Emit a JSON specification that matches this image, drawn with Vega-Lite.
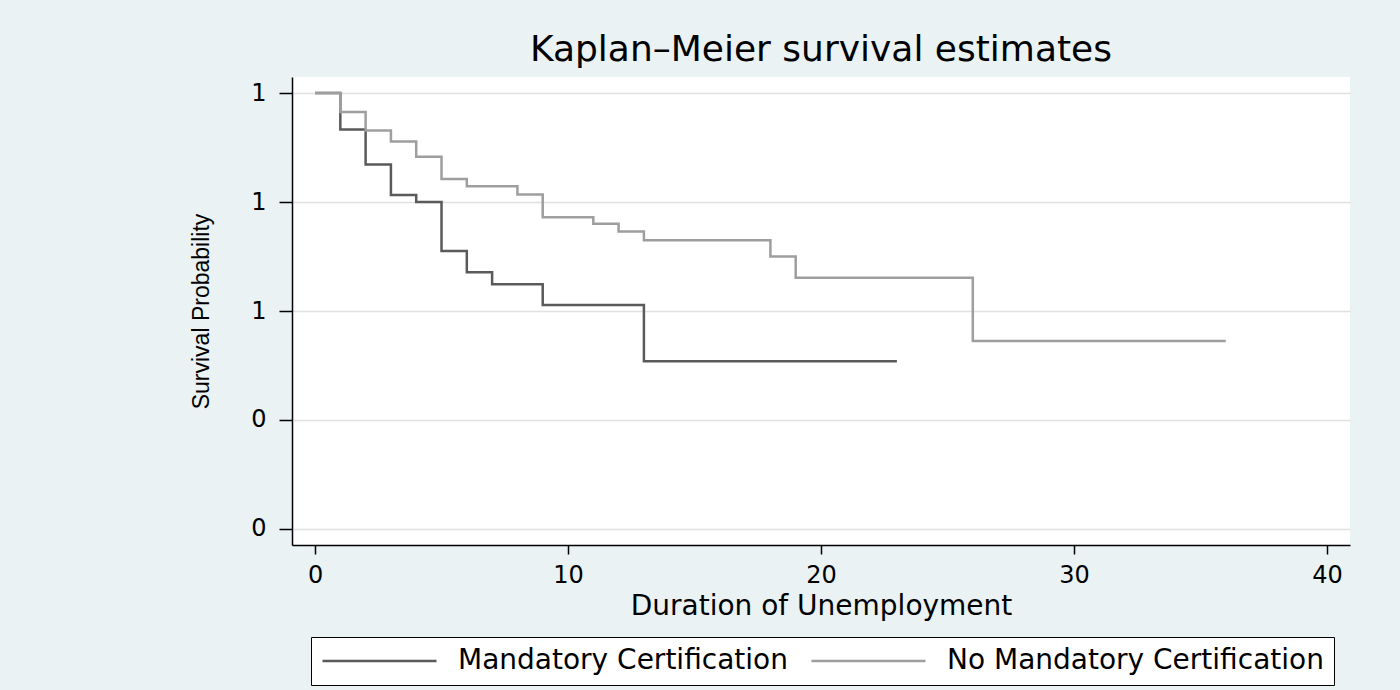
{
  "$schema": "https://vega.github.io/schema/vega-lite/v6.json",
  "width": 1058,
  "height": 468,
  "autosize": {"type": "none"},
  "padding": {"left": 292, "top": 77, "right": 50, "bottom": 145},
  "background": "#eaf2f3",
  "title": {
    "text": "Kaplan–Meier survival estimates",
    "font": "DejaVu Sans",
    "fontSize": 36,
    "fontWeight": "normal",
    "color": "black",
    "anchor": "middle",
    "baseline": "alphabetic",
    "offset": 14,
    "dy": 34
  },
  "data": {
    "values": [
      {"group": "Mandatory Certification", "t": 0, "s": 1.0},
      {"group": "Mandatory Certification", "t": 1, "s": 0.933},
      {"group": "Mandatory Certification", "t": 2, "s": 0.869},
      {"group": "Mandatory Certification", "t": 3, "s": 0.813},
      {"group": "Mandatory Certification", "t": 4, "s": 0.800},
      {"group": "Mandatory Certification", "t": 5, "s": 0.710},
      {"group": "Mandatory Certification", "t": 6, "s": 0.671},
      {"group": "Mandatory Certification", "t": 7, "s": 0.649},
      {"group": "Mandatory Certification", "t": 9, "s": 0.611},
      {"group": "Mandatory Certification", "t": 13, "s": 0.508},
      {"group": "Mandatory Certification", "t": 23, "s": 0.508},
      {"group": "No Mandatory Certification", "t": 0, "s": 1.0},
      {"group": "No Mandatory Certification", "t": 1, "s": 0.965},
      {"group": "No Mandatory Certification", "t": 2, "s": 0.931},
      {"group": "No Mandatory Certification", "t": 3, "s": 0.911},
      {"group": "No Mandatory Certification", "t": 4, "s": 0.883},
      {"group": "No Mandatory Certification", "t": 5, "s": 0.842},
      {"group": "No Mandatory Certification", "t": 6, "s": 0.829},
      {"group": "No Mandatory Certification", "t": 8, "s": 0.814},
      {"group": "No Mandatory Certification", "t": 9, "s": 0.772},
      {"group": "No Mandatory Certification", "t": 11, "s": 0.760},
      {"group": "No Mandatory Certification", "t": 12, "s": 0.746},
      {"group": "No Mandatory Certification", "t": 13, "s": 0.730},
      {"group": "No Mandatory Certification", "t": 18, "s": 0.700},
      {"group": "No Mandatory Certification", "t": 19, "s": 0.661},
      {"group": "No Mandatory Certification", "t": 26, "s": 0.545},
      {"group": "No Mandatory Certification", "t": 36, "s": 0.545}
    ]
  },
  "mark": {"type": "line", "interpolate": "step-after", "strokeWidth": 2.5},
  "encoding": {
    "x": {
      "field": "t",
      "type": "quantitative",
      "title": "Duration of Unemployment",
      "scale": {"domain": [-0.91, 40.91], "nice": false, "zero": false},
      "axis": {
        "values": [0, 10, 20, 30, 40],
        "grid": false,
        "tickSize": 9,
        "labelPadding": 9,
        "labelFont": "DejaVu Sans",
        "labelFontSize": 24,
        "titleFont": "DejaVu Sans",
        "titleFontSize": 28,
        "titlePadding": 5
      }
    },
    "y": {
      "field": "s",
      "type": "quantitative",
      "title": "Survival Probability",
      "scale": {"domain": [0.1706, 1.0294], "nice": false, "zero": false},
      "axis": {
        "values": [0.2, 0.4, 0.6, 0.8, 1],
        "format": ".0f",
        "grid": true,
        "gridColor": "#e0e0e0",
        "gridWidth": 1.5,
        "tickSize": 13,
        "labelPadding": 13,
        "labelFont": "DejaVu Sans",
        "labelFontSize": 24,
        "titleFont": "Liberation Sans",
        "titleFontSize": 23,
        "titlePadding": 37
      }
    },
    "color": {
      "field": "group",
      "type": "nominal",
      "scale": {
        "domain": ["Mandatory Certification", "No Mandatory Certification"],
        "range": ["#5a5a5a", "#9e9e9e"]
      },
      "legend": {
        "title": null,
        "orient": "none",
        "legendX": 19,
        "legendY": 560,
        "direction": "horizontal",
        "columns": 2,
        "columnPadding": 22,
        "fillColor": "white",
        "strokeColor": "black",
        "padding": 10,
        "symbolType": "stroke",
        "symbolSize": 12996,
        "symbolStrokeWidth": 2.5,
        "labelFont": "DejaVu Sans",
        "labelFontSize": 28,
        "labelColor": "black",
        "labelLimit": 600,
        "labelOffset": 20,
        "clipHeight": 28
      }
    }
  },
  "config": {
    "view": {"fill": "white", "stroke": null},
    "axis": {
      "domainColor": "black",
      "domainWidth": 1.5,
      "tickColor": "black",
      "tickWidth": 1.5,
      "labelColor": "black",
      "titleColor": "black",
      "titleFontWeight": "normal"
    }
  }
}
